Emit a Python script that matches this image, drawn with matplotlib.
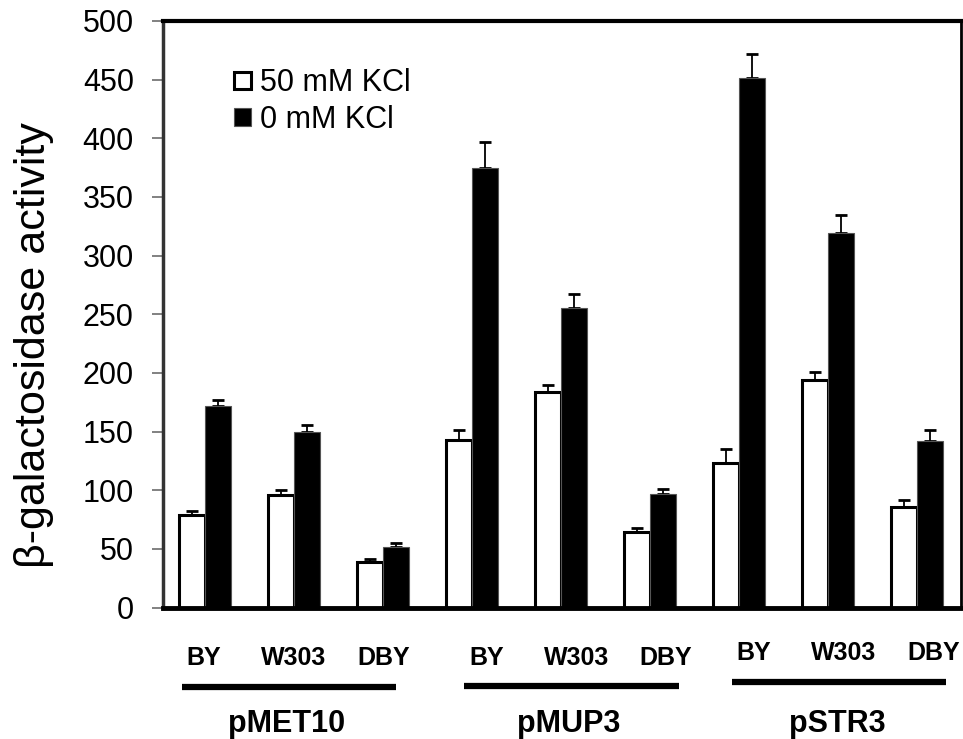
import matplotlib
matplotlib.use('Agg')
from matplotlib import pyplot as plt
from matplotlib.transforms import blended_transform_factory
import numpy as np

plt.rcParams['font.family'] = ['Liberation Sans', 'DejaVu Sans']

# data
promoters = ['pMET10', 'pMUP3', 'pSTR3']
strains = ['BY', 'W303', 'DBY']
kcl50 = [79, 96, 39, 143, 184, 64, 123, 194, 86]
kcl50_err = [3, 4, 2, 8, 6, 4, 12, 7, 6]
kcl0 = [172, 150, 52, 375, 255, 97, 451, 319, 142]
kcl0_err = [5, 6, 3, 22, 12, 4, 21, 16, 9]
series_names = ['50 mM KCl', '0 mM KCl']
yticks = list(range(0, 501, 50))

W, H = 963, 739
fig = plt.figure(figsize=(W / 100, H / 100), dpi=100)
ax = fig.add_axes([163 / W, 1 - 607.5 / H, (961 - 163) / W, (607.5 - 21) / H])

x = np.arange(len(kcl50))
bw = 0.293
ax.bar(x - bw / 2, kcl50, bw, color='white', edgecolor='black', linewidth=2.2,
       label=series_names[0], zorder=2)
ax.bar(x + bw / 2, kcl0, bw, color='black', edgecolor='#555555', linewidth=0.8,
       label=series_names[1], zorder=2)
ax.errorbar(x - bw / 2, kcl50, yerr=[np.zeros(len(x)), kcl50_err], fmt='none',
            ecolor='black', elinewidth=1.3, capsize=4.5, capthick=2, zorder=1)
ax.errorbar(x + bw / 2, kcl0, yerr=[np.zeros(len(x)), kcl0_err], fmt='none',
            ecolor='black', elinewidth=1.3, capsize=4.5, capthick=2, zorder=1)

ax.set_xlim(-0.472, 8.494)
ax.set_ylim(0, 500)
ax.set_xticks([])
ax.set_yticks(yticks)
ax.tick_params(axis='y', length=8, width=1.3, color='#777777', pad=13, labelsize=22)

for side, lw in [('left', 2.5), ('top', 3), ('bottom', 3.5), ('right', 2)]:
    ax.spines[side].set_linewidth(lw)
    ax.spines[side].set_color('black')
ax.spines['left'].set_color('#333333')

leg = ax.legend(loc='upper left', bbox_to_anchor=((219 - 163) / (961 - 163), 1 - (53 - 21) / (607.5 - 21)),
                frameon=False, fontsize=22, handlelength=0.55, handleheight=0.5,
                handletextpad=0.3, labelspacing=0.22, borderpad=0)

fig.text(34 / W, 1 - 345 / H, '\u03b2-galactosidase activity', rotation=90,
         ha='center', va='center', fontsize=31)

# strain labels, group bars and promoter names under the axis
trans = blended_transform_factory(ax.transData, fig.transFigure)
shifts = [-0.01, 0.16, 0.17]
strain_base = [665, 665, 660]
line_y = [687, 686, 682]
for g, name in enumerate(promoters):
    s = shifts[g]
    for k, st in enumerate(strains):
        ax.text(3 * g + k + s + 0.01 * k, 1 - strain_base[g] / H, st, transform=trans,
                ha='center', va='baseline', fontsize=18, fontweight='bold')
    ax.plot([3 * g - 0.25 + s, 3 * g + 2.16 + s], [1 - line_y[g] / H] * 2, transform=trans,
            color='black', linewidth=4.5, solid_capstyle='butt', clip_on=False)
    ax.text(3 * g + 0.93 + s, 1 - 732 / H, name, transform=trans,
            ha='center', va='baseline', fontsize=22, fontweight='bold')

fig.savefig('out.png', dpi=100)
